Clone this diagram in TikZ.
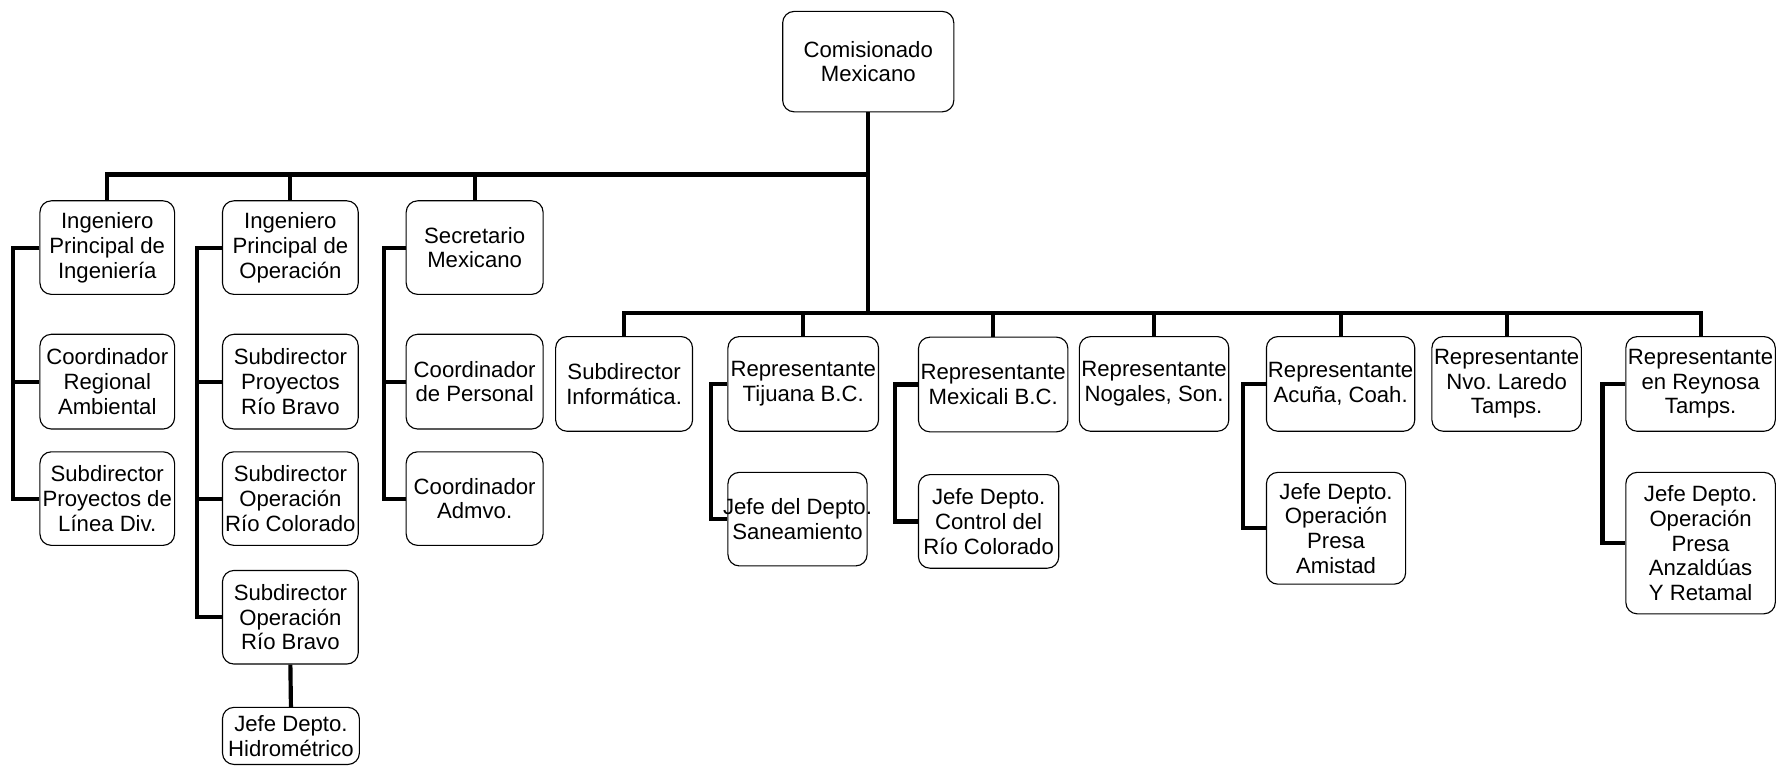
\documentclass[tikz,border=0pt]{standalone}
\usepackage{fontspec}
\setmainfont{Liberation Sans}
\frenchspacing
\begin{document}
\begin{tikzpicture}[x=0.025cm,y=-0.025cm,
  box/.style 2 args={draw,rounded corners=0.25cm,line width=0.7pt,align=center,inner sep=0pt,
    minimum width=#1*0.025cm,minimum height=#2*0.025cm,font=\fontsize{13.8}{15.4}\selectfont},
  link/.style={line width=2.6pt}]
\useasboundingbox (0,0) rectangle (1568,672);
% cabeza
\node[box={150}{88}] (com) at (761,54) {Comisionado\\Mexicano};
% primera fila
\node[box={118}{82}] (ing) at (94,217) {Ingeniero\\Principal de\\Ingeniería};
\node[box={119}{82}] (ope) at (254.5,217) {Ingeniero\\Principal de\\Operación};
\node[box={120}{82}] (sec) at (416,217) {Secretario\\Mexicano};
\node[box={118}{83}] (reg) at (94,334.5) {Coordinador\\Regional\\Ambiental};
\node[box={118}{82}] (lin) at (94,437) {Subdirector\\Proyectos de\\Línea Div.};
\node[box={119}{83}] (prb) at (254.5,334.5) {Subdirector\\Proyectos\\Río Bravo};
\node[box={119}{82}] (orc) at (254.5,437) {Subdirector\\Operación\\Río Colorado};
\node[box={119}{82}] (orb) at (254.5,541) {Subdirector\\Operación\\Río Bravo};
\node[box={120}{50}] (hid) at (255,645) {Jefe Depto.\\Hidrométrico};
\node[box={120}{83}] (per) at (416,334.5) {Coordinador\\de Personal};
\node[box={120}{82}] (adm) at (416,437) {Coordinador\\Admvo.};
% segunda fila
\node[box={120}{83}] (inf) at (547,336.5) {Subdirector\\Informática.};
\node[box={132}{83}] (tij) at (704,336.5) {Representante\\Tijuana B.C.};
\node[box={131}{83}] (mxl) at (870.5,337) {Representante\\Mexicali B.C.};
\node[box={131}{83}] (nog) at (1011.5,336.5) {Representante\\Nogales, Son.};
\node[box={130}{83}] (acu) at (1175,336.5) {Representante\\Acuña, Coah.};
\node[box={131}{83}] (nld) at (1320.5,336.5) {Representante\\Nvo. Laredo\\Tamps.};
\node[box={131}{83}] (rey) at (1490.5,336.5) {Representante\\en Reynosa\\Tamps.};
\node[box={122}{82},inner xsep=-5*0.025cm] (san) at (699,455) {Jefe del Depto.\\Saneamiento};
\node[box={123}{82}] (crc) at (866.5,457) {Jefe Depto.\\Control del\\Río Colorado};
\node[box={122}{98}] (ams) at (1171,463) {Jefe Depto.\\Operación\\Presa\\Amistad};
\node[box={131}{124}] (anz) at (1490.5,476) {Jefe Depto.\\Operación\\Presa\\Anzaldúas\\Y Retamal};
% lineas
\coordinate (top) at (761,153);
\coordinate (low) at (761,274);
\draw[link] (com.south) -- (low);
\foreach \n in {ing,ope,sec} \draw[link] (top) -| (\n.north);
\foreach \n in {inf,tij,mxl,nog,acu,nld,rey} \draw[link] (low) -| (\n.north);
\foreach \c in {reg,lin} \draw[link] (ing.west) -- ++(-23,0) |- (\c.west);
\foreach \c in {prb,orc,orb} \draw[link] (ope.west) -- ++(-22,0) |- (\c.west);
\foreach \c in {per,adm} \draw[link] (sec.west) -- ++(-19,0) |- (\c.west);
\draw[link] (orb.south) -- (hid.north);
\draw[link] (tij.west) -- ++(-14,0) |- (san.west);
\draw[link] (mxl.west) -- ++(-20,0) |- (crc.west);
\draw[link] (acu.west) -- ++(-20,0) |- (ams.west);
\draw[link] (rey.west) -- ++(-20,0) |- (anz.west);
\end{tikzpicture}
\end{document}
